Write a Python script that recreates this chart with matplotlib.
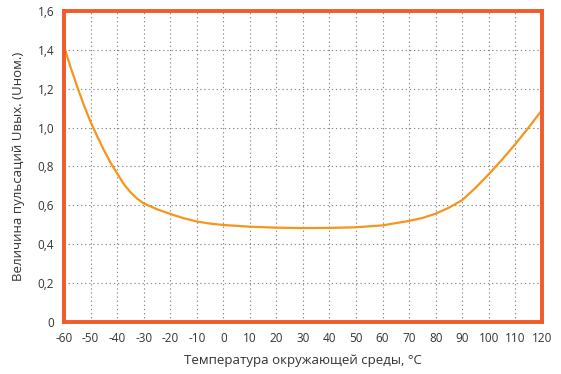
import matplotlib.pyplot as plt
from matplotlib.ticker import FuncFormatter

plt.rcParams['font.family'] = ['Open Sans', 'DejaVu Sans']
plt.rcParams['axes.unicode_minus'] = False

# temperature, deg C
temp = [-60, -57.5, -55, -52.5, -50, -47.5, -45, -42.5, -40, -37.5, -35, -32.5,
        -30, -25, -20, -15, -10, -5, 0, 10, 20, 30, 40, 50, 60, 70, 75, 80, 85,
        90, 95, 100, 105, 110, 115, 120]
# ripple, relative to nominal
ripple = [1.42, 1.31, 1.21, 1.115, 1.03, 0.955, 0.885, 0.82, 0.765, 0.71, 0.668, 0.635,
          0.61, 0.58, 0.556, 0.534, 0.517, 0.506, 0.499, 0.49, 0.485, 0.483, 0.484,
          0.487, 0.497, 0.52, 0.535, 0.557, 0.588,
          0.627, 0.69, 0.76, 0.835, 0.915, 1.0, 1.09]

xticks = list(range(-60, 121, 10))
yticks = [0, 0.2, 0.4, 0.6, 0.8, 1.0, 1.2, 1.4, 1.6]

fig = plt.figure(figsize=(5.61, 3.74), dpi=100)
ax = fig.add_axes([0.114, 0.139, 0.852, 0.832])

ax.plot(temp, ripple, color='#F7941D', lw=1.6, solid_capstyle='round')

ax.set_xlim(-60, 120)
ax.set_ylim(0, 1.6)
ax.set_xticks(xticks)
ax.set_yticks(yticks)
ax.yaxis.set_major_formatter(FuncFormatter(
    lambda v, p: '0' if v == 0 else f'{v:.1f}'.replace('.', ',')))
ax.tick_params(axis='x', length=0, labelsize=8.5, colors='#333333', pad=7)
ax.tick_params(axis='y', length=0, labelsize=8.5, colors='#333333', pad=7)
ax.grid(True, linestyle=(0, (1.2, 2.5)), color='#8a8a8a', lw=0.8)

for s in ax.spines.values():
    s.set_color('#F15A29')
    s.set_linewidth(2.8)

ax.set_xlabel('Температура окружающей среды, °C', fontsize=9.5, color='#333333', labelpad=7)
ax.set_ylabel('Величина пульсаций Uвых. (Uном.)', fontsize=9.5, color='#333333', labelpad=9)

fig.savefig('out.png', dpi=100)
